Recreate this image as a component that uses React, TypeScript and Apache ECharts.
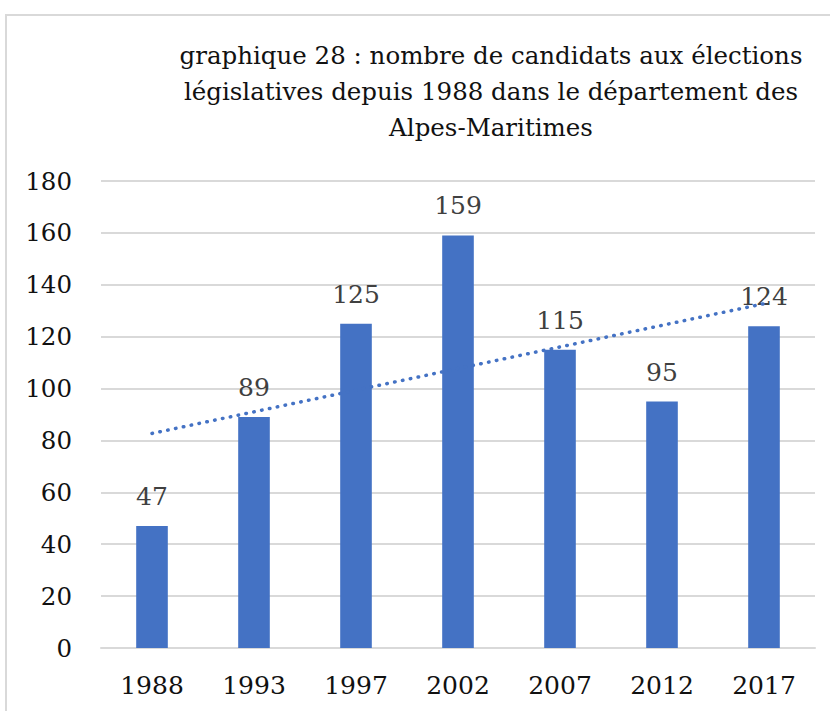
import React, { useEffect, useRef } from "react";
import * as echarts from "echarts";

const categories = ["1988", "1993", "1997", "2002", "2007", "2012", "2017"];
const candidates = [47, 89, 125, 159, 115, 95, 124];
// linear trend line endpoints
const trendLine = [82.7, null, null, null, null, null, 132.7];
const titleText =
  "graphique 28 : nombre de candidats aux élections\nlégislatives depuis 1988 dans le département des\nAlpes-Maritimes";

const FONT = "DejaVu Serif";

export default function App() {
  const ref = useRef<HTMLDivElement>(null);
  useEffect(() => {
    document.body.style.margin = "0";
    const chart = echarts.init(ref.current!, null, { renderer: "svg" });
    chart.setOption({
      animation: false,
      backgroundColor: "#ffffff",
      textStyle: { fontFamily: FONT },
      title: {
        text: titleText,
        left: 486,
        top: 32,
        textAlign: "center",
        textStyle: {
          fontFamily: FONT,
          fontSize: 24.5,
          fontWeight: "normal",
          color: "#111111",
          lineHeight: 36,
        },
      },
      graphic: [
        {
          type: "rect",
          shape: { x: 6, y: 15, width: 1000, height: 1000 },
          style: { fill: "none", stroke: "#d9d9d9", lineWidth: 2 },
          silent: true,
          z: -10,
        },
      ],
      grid: { left: 101, right: 15, top: 181, bottom: 63, containLabel: false },
      xAxis: {
        type: "category",
        data: categories,
        axisLine: { show: true, lineStyle: { color: "#d9d9d9", width: 2 } },
        axisTick: { show: false },
        axisLabel: {
          fontFamily: FONT,
          fontSize: 25,
          color: "#111111",
          margin: 25,
        },
      },
      yAxis: {
        type: "value",
        min: 0,
        max: 180,
        interval: 20,
        axisLine: { show: false },
        axisTick: { show: false },
        splitLine: { lineStyle: { color: "#d9d9d9", width: 2 } },
        axisLabel: {
          fontFamily: FONT,
          fontSize: 24.5,
          color: "#111111",
          margin: 29,
        },
      },
      series: [
        {
          type: "bar",
          data: candidates,
          barWidth: "31%",
          itemStyle: { color: "#4472C4" },
          label: {
            show: true,
            position: "top",
            distance: 17,
            fontFamily: FONT,
            fontSize: 25,
            color: "#404040",
          },
        },
        {
          type: "line",
          data: trendLine,
          connectNulls: true,
          symbol: "none",
          silent: true,
          z: 5,
          lineStyle: {
            color: "#4472C4",
            width: 3.5,
            type: [0.5, 7.5],
            cap: "round",
          },
        },
      ],
    });
    return () => chart.dispose();
  }, []);
  return (
    <div
      ref={ref}
      style={{ position: "fixed", left: 0, top: 0, width: 830, height: 711 }}
    />
  );
}
